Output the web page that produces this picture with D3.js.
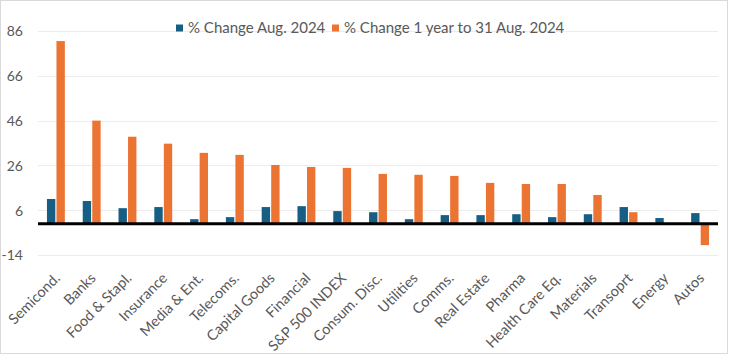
<!DOCTYPE html>
<html>
<head>
<meta charset="utf-8">
<script src="https://cdn.jsdelivr.net/npm/d3@7"></script>
<style>
  html, body { margin: 0; padding: 0; background: #fff; }
  svg { display: block; }
</style>
</head>
<body>
<svg id="chart" width="729" height="355"></svg>
<script>
const categories = ["Semicond.", "Banks", "Food & Stapl.", "Insurance", "Media & Ent.", "Telecoms.",
  "Capital Goods", "Financial", "S&P 500 INDEX", "Consum. Disc.", "Utilities", "Comms.",
  "Real Estate", "Pharma", "Health Care Eq.", "Materials", "Transoprt", "Energy", "Autos"];
const seriesNames = ["% Change Aug. 2024", "% Change 1 year to 31 Aug. 2024"];
const changeAug = [11.0, 10.1, 6.9, 7.4, 2.0, 2.9, 7.4, 7.8, 5.6, 5.1, 2.0, 3.8, 3.8, 4.2, 2.9, 4.2, 7.4, 2.5, 4.7];
const change1y = [81.5, 46.0, 38.8, 35.7, 31.6, 30.7, 26.2, 25.3, 24.9, 22.2, 21.8, 21.3, 18.2, 17.7, 17.7, 12.8, 5.1, 0, -9.6];
const yTicks = [-14, 6, 26, 46, 66, 86];
const colors = ["#175e85", "#ec7433"];

const svg = d3.select("#chart");
const textColor = "#595959";
const font = "Lato, 'Open Sans', sans-serif";

svg.append("rect").attr("x", 0.5).attr("y", 0.5).attr("width", 727).attr("height", 353)
  .attr("fill", "#fff").attr("stroke", "#d9d9d9");

const plot = { left: 38, right: 718, top: 31, bottom: 255 };

const x0 = d3.scaleBand().domain(categories).range([plot.left, plot.right])
  .paddingInner(0.5).paddingOuter(0.25);
const x1 = d3.scaleBand().domain([0, 1]).range([0, x0.bandwidth()]).paddingInner(0.12);
const y = d3.scaleLinear().domain([-14, 86]).range([plot.bottom, plot.top]);

// gridlines
svg.append("g").selectAll("line").data(yTicks).join("line")
  .attr("x1", plot.left).attr("x2", plot.right)
  .attr("y1", d => Math.round(y(d)) + 0.5).attr("y2", d => Math.round(y(d)) + 0.5)
  .attr("stroke", "#ececec").attr("stroke-width", 1);

// y axis labels
const yAxis = d3.axisLeft(y).tickValues(yTicks).tickSize(0).tickPadding(0)
  .tickFormat(d => d < 0 ? "-" + Math.abs(d) : d);
const yg = svg.append("g").attr("transform", `translate(23,0)`).call(yAxis);
yg.select(".domain").remove();
yg.selectAll("text").attr("fill", textColor).attr("font-family", font).attr("font-size", 14)
  .attr("dy", "0.35em");

// bars
const data = categories.map((c, i) => ({ c, vals: [changeAug[i], change1y[i]] }));
const groups = svg.append("g").selectAll("g").data(data).join("g")
  .attr("transform", d => `translate(${x0(d.c)},0)`);
groups.selectAll("rect").data(d => d.vals.map((v, k) => ({ v, k }))).join("rect")
  .attr("x", d => x1(d.k)).attr("width", x1.bandwidth())
  .attr("y", d => y(Math.max(0, d.v)))
  .attr("height", d => Math.abs(y(d.v) - y(0)))
  .attr("fill", d => colors[d.k]);

// zero line
svg.append("line").attr("x1", plot.left).attr("x2", plot.right)
  .attr("y1", y(0)).attr("y2", y(0)).attr("stroke", "#000").attr("stroke-width", 3);

// x labels
svg.append("g").selectAll("text").data(categories).join("text")
  .attr("transform", d => `translate(${x0(d) + x0.bandwidth() / 2 + 5},279) rotate(-45)`)
  .attr("text-anchor", "end")
  .attr("fill", textColor).attr("font-family", font).attr("font-size", 14.5)
  .text(d => d);

// legend
const legendItems = [{ name: seriesNames[0], x: 176 }, { name: seriesNames[1], x: 332 }];
const lg = svg.append("g").selectAll("g").data(legendItems).join("g")
  .attr("transform", d => `translate(${d.x},24)`);
lg.append("rect").attr("width", 7).attr("height", 7).attr("y", 0.5).attr("fill", (d, i) => colors[i]);
lg.append("text").attr("x", 12).attr("y", 4).attr("dy", "0.35em")
  .attr("fill", textColor).attr("font-family", font).attr("font-size", 15)
  .text(d => d.name);
</script>
</body>
</html>
